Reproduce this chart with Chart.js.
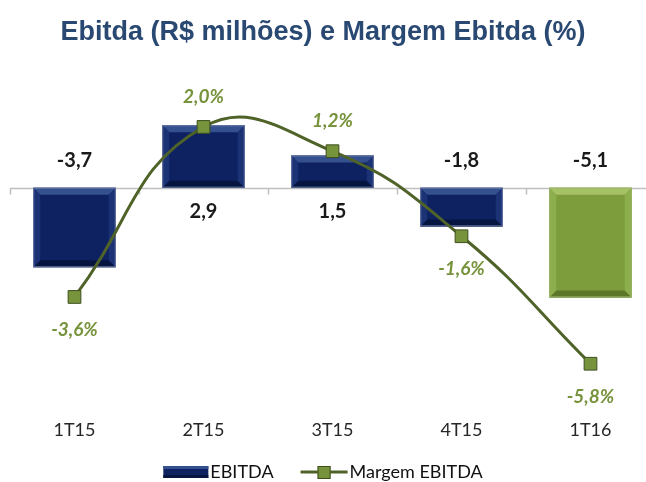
<!DOCTYPE html>
<html lang="pt-BR">
<head>
<meta charset="UTF-8">
<title>Ebitda e Margem Ebitda</title>
<style>
  html, body { margin: 0; padding: 0; background: #fff; overflow: hidden; }
  /* plot runs slightly past the right edge of the window, as in the original */
  .wrap { position: relative; width: 665px; height: 482px; }
</style>
</head>
<body>
<div class="wrap"><canvas id="ebitdaChart"></canvas></div>
<script src="https://cdn.jsdelivr.net/npm/chart.js@4.4.1/dist/chart.umd.min.js"></script>
<script>
// data
const quarters = ['1T15', '2T15', '3T15', '4T15', '1T16'];
const ebitda = [-3.7, 2.9, 1.5, -1.8, -5.1];     // R$ milhões
const margem = [-3.6, 2.0, 1.2, -1.6, -5.8];     // %
const chartTitle = 'Ebitda (R$ milhões) e Margem Ebitda (%)';

const NAVY = '#0E2262';
const GREEN = '#7D9D3D';
const OLIVE = '#4F6228';
const LABEL_GREEN = '#77933C';

function fmt(v) { return v.toFixed(1).replace('.', ','); }
function isLast(i) { return i === quarters.length - 1; }

// legend keys
function drawBarKey(ctx, x, y) {
    ctx.fillStyle = NAVY; ctx.fillRect(x, y - 6, 45, 12);
    ctx.fillStyle = '#34508F'; ctx.fillRect(x, y - 6, 45, 3);
    ctx.fillStyle = '#061440'; ctx.fillRect(x, y + 3, 45, 3);
}
function drawLineKey(ctx, x, y) {
    ctx.strokeStyle = OLIVE; ctx.lineWidth = 3;
    ctx.beginPath(); ctx.moveTo(x, y); ctx.lineTo(x + 47, y); ctx.stroke();
    ctx.fillStyle = LABEL_GREEN; ctx.fillRect(x + 17, y - 6, 13, 13);
    ctx.strokeStyle = '#3E4F1E'; ctx.lineWidth = 1; ctx.strokeRect(x + 17.5, y - 5.5, 12, 12);
}

// title and legend, centred on the visible window
const frame = {
    id: 'frame',
    afterDraw(chart) {
        const ctx = chart.ctx;
        const cx = window.innerWidth / 2;
        ctx.save();
        ctx.textBaseline = 'middle';
        ctx.textAlign = 'center';
        ctx.fillStyle = '#294872';
        ctx.font = 'bold 27px "Liberation Sans"';
        ctx.fillText(chartTitle, cx, 33);

        ctx.font = '18px Lato';
        ctx.textAlign = 'left';
        const keys = [drawBarKey, drawLineKey];
        const keyW = [45, 47];
        const names = chart.data.datasets.map(d => d.label);
        const widths = names.map(n => ctx.measureText(n).width);
        const total = keyW[0] + 2 + widths[0] + 27 + keyW[1] + 2 + widths[1];
        let x = cx - total / 2;
        const y = 472;
        names.forEach((n, i) => {
            keys[i](ctx, x, y);
            x += keyW[i] + 2;
            ctx.fillStyle = '#111';
            ctx.fillText(n, x, y);
            x += widths[i] + 27;
        });
        ctx.restore();
    }
};

// zero line + small category ticks
const zeroAxis = {
    id: 'zeroAxis',
    beforeDatasetsDraw(chart) {
        const { ctx, chartArea, scales } = chart;
        const y0 = Math.round(scales.y.getPixelForValue(0)) + 0.5;
        const step = scales.x.getPixelForValue(1) - scales.x.getPixelForValue(0);
        ctx.save();
        ctx.strokeStyle = '#BFBFBF';
        ctx.lineWidth = 1.5;
        ctx.beginPath();
        ctx.moveTo(chartArea.left, y0);
        ctx.lineTo(chartArea.right, y0);
        for (let i = 0; i <= quarters.length; i++) {
            const x = Math.round(scales.x.getPixelForValue(0) - step / 2 + i * step) + 0.5;
            ctx.moveTo(x, y0);
            ctx.lineTo(x, y0 + 6);
        }
        ctx.stroke();
        ctx.restore();
    }
};

// bevel look on the bars
const bevel = {
    id: 'bevel',
    afterDatasetDraw(chart, args) {
        if (args.index !== 0) return;
        const ctx = chart.ctx;
        args.meta.data.forEach((bar, i) => {
            const p = bar.getProps(['x', 'y', 'base', 'width'], true);
            const l = p.x - p.width / 2, r = p.x + p.width / 2;
            const t = Math.min(p.y, p.base), b = Math.max(p.y, p.base);
            const d = Math.min(7, (b - t) / 4);
            const light = isLast(i) ? '#A6C166' : '#34508F';
            const dark = isLast(i) ? '#5B7628' : '#061440';
            const side = isLast(i) ? '#8DAE4C' : '#1B3274';
            ctx.save();
            ctx.fillStyle = light;
            ctx.beginPath();
            ctx.moveTo(l, t); ctx.lineTo(r, t); ctx.lineTo(r - d, t + d); ctx.lineTo(l + d, t + d);
            ctx.fill();
            ctx.fillStyle = dark;
            ctx.beginPath();
            ctx.moveTo(l, b); ctx.lineTo(r, b); ctx.lineTo(r - d, b - d); ctx.lineTo(l + d, b - d);
            ctx.fill();
            ctx.fillStyle = side;
            ctx.beginPath();
            ctx.moveTo(l, t); ctx.lineTo(l + d, t + d); ctx.lineTo(l + d, b - d); ctx.lineTo(l, b);
            ctx.moveTo(r, t); ctx.lineTo(r - d, t + d); ctx.lineTo(r - d, b - d); ctx.lineTo(r, b);
            ctx.fill();
            ctx.strokeStyle = isLast(i) ? '#9BB36A' : '#6C7BA6';
            ctx.lineWidth = 1;
            ctx.strokeRect(l + 0.5, t + 0.5, p.width - 1, b - t - 1);
            ctx.restore();
        });
    }
};

// value labels
const valueLabels = {
    id: 'valueLabels',
    afterDatasetsDraw(chart) {
        const ctx = chart.ctx;
        const y0 = chart.scales.y.getPixelForValue(0);
        ctx.save();
        ctx.textAlign = 'center';
        ctx.textBaseline = 'middle';
        // EBITDA: written on the other side of the zero line
        ctx.font = 'bold 20px Lato';
        ctx.fillStyle = '#1A1A1A';
        chart.getDatasetMeta(0).data.forEach((bar, i) => {
            const v = ebitda[i];
            ctx.fillText(fmt(v), bar.x, v < 0 ? y0 - 27 : y0 + 24);
        });
        // margem
        ctx.font = 'italic bold 19px Lato';
        ctx.fillStyle = LABEL_GREEN;
        chart.getDatasetMeta(1).data.forEach((pt, i) => {
            const v = margem[i];
            ctx.fillText(fmt(v) + '%', pt.x, v < 0 ? pt.y + 33 : pt.y - 30);
        });
        ctx.restore();
    }
};

new Chart(document.getElementById('ebitdaChart'), {
    data: {
        labels: quarters,
        datasets: [{
            type: 'bar',
            label: 'EBITDA',
            data: ebitda,
            yAxisID: 'y',
            order: 1,
            backgroundColor: ctx => isLast(ctx.dataIndex) ? GREEN : NAVY,
            borderWidth: 0,
            categoryPercentage: 1,
            barPercentage: 0.64
        }, {
            type: 'line',
            label: 'Margem EBITDA',
            data: margem,
            yAxisID: 'y2',
            order: 0,
            borderColor: OLIVE,
            borderWidth: 3,
            tension: 0.45,
            pointStyle: 'rect',
            pointRadius: 9,
            pointBackgroundColor: LABEL_GREEN,
            pointBorderColor: '#3E4F1E',
            pointBorderWidth: 1
        }]
    },
    options: {
        responsive: true,
        maintainAspectRatio: false,
        animation: false,
        layout: { padding: { left: 10, right: 10, top: 59, bottom: 25 } },
        scales: {
            x: {
                grid: { display: false, drawTicks: false },
                border: { display: false },
                ticks: { color: '#262626', font: { family: 'Lato', size: 18 }, padding: 16 }
            },
            y: { display: false, min: -10.028, max: 5.981 },
            y2: { display: false, min: -7.106, max: 4.238 }
        },
        plugins: {
            legend: { display: false },
            title: { display: false },
            tooltip: { enabled: false }
        }
    },
    plugins: [zeroAxis, bevel, valueLabels, frame]
});
</script>
</body>
</html>
